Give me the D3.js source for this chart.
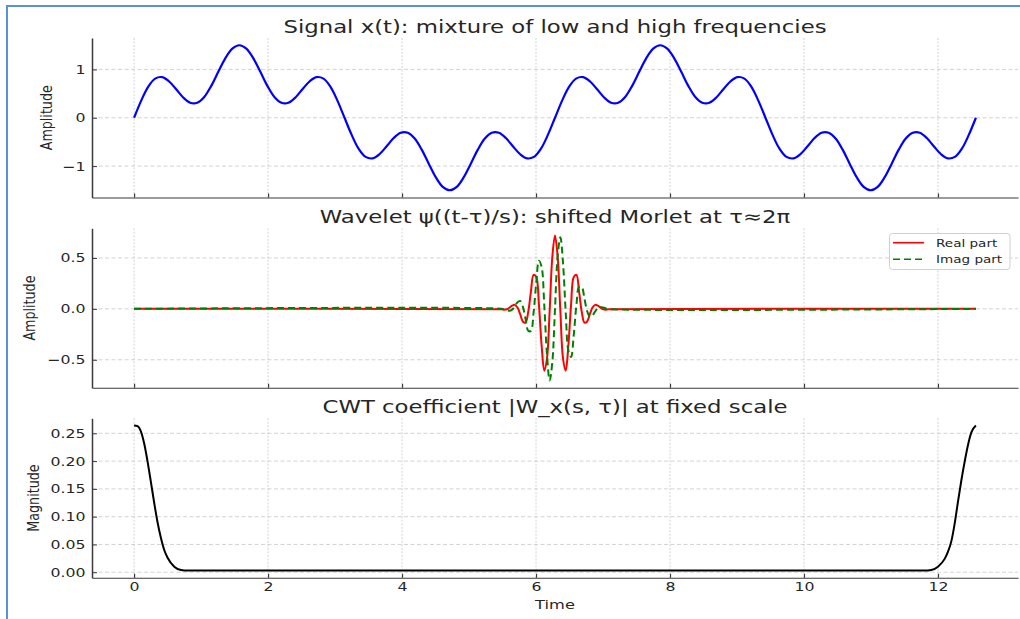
<!DOCTYPE html>
<html>
<head>
<meta charset="utf-8">
<title>Signal, Morlet wavelet and CWT coefficient</title>
<script src="https://d3js.org/d3.v7.min.js"></script>
<style>
  body { margin: 0; background: #fff; }
  svg text { font-family: "DejaVu Sans", sans-serif; fill: #262626; }
</style>
</head>
<body>
<div id="chart"></div>
<script>
// ---- data ----
const xTicks = [0, 2, 4, 6, 8, 10, 12];
const tEnd = 4 * Math.PI;

// x(t) sampled every pi/30 from 0 to 4*pi
const signalStep = Math.PI / 30;
const signalValues = [
  0, 0.35, 0.64, 0.81, 0.84, 0.75, 0.59, 0.42, 0.31, 0.31, 0.43, 0.66, 0.95, 1.23, 1.43, 1.5,
  1.43, 1.23, 0.95, 0.66, 0.43, 0.31, 0.31, 0.42, 0.59, 0.75, 0.84, 0.81, 0.64, 0.35, 0,
  -0.35, -0.64, -0.81, -0.84, -0.75, -0.59, -0.42, -0.31, -0.31, -0.43, -0.66, -0.95, -1.23, -1.43, -1.5,
  -1.43, -1.23, -0.95, -0.66, -0.43, -0.31, -0.31, -0.42, -0.59, -0.75, -0.84, -0.81, -0.64, -0.35, 0,
  0.35, 0.64, 0.81, 0.84, 0.75, 0.59, 0.42, 0.31, 0.31, 0.43, 0.66, 0.95, 1.23, 1.43, 1.5,
  1.43, 1.23, 0.95, 0.66, 0.43, 0.31, 0.31, 0.42, 0.59, 0.75, 0.84, 0.81, 0.64, 0.35, 0,
  -0.35, -0.64, -0.81, -0.84, -0.75, -0.59, -0.42, -0.31, -0.31, -0.43, -0.66, -0.95, -1.23, -1.43, -1.5,
  -1.43, -1.23, -0.95, -0.66, -0.43, -0.31, -0.31, -0.42, -0.59, -0.75, -0.84, -0.81, -0.64, -0.35, 0
];

// wavelet around tau = 2*pi, sampled every 0.04 (zero elsewhere)
const wavCenter = 2 * Math.PI;
const wavStep = 0.04;
const wavReal = [
  -0.005, -0.008, -0.004, 0.011, 0.031, 0.039, 0.013, -0.052, -0.124, -0.136, -0.031, 0.166, 0.334, 0.314,
  0.042, -0.356, -0.607, -0.488, -0.021, 0.509, 0.72, 0.509, -0.021, -0.488, -0.607, -0.356, 0.042,
  0.314, 0.334, 0.166, -0.031, -0.136, -0.124, -0.052, 0.013, 0.039, 0.031, 0.011, -0.004, -0.008, -0.005
];
const wavImag = [
  0.002, -0.004, -0.013, -0.018, -0.007, 0.025, 0.065, 0.077, 0.022, -0.098, -0.214, -0.217, -0.039, 0.256,
  0.473, 0.412, 0.035, -0.447, -0.704, -0.524, 0, 0.524, 0.704, 0.447, -0.035, -0.412, -0.473,
  -0.256, 0.039, 0.217, 0.214, 0.098, -0.022, -0.077, -0.065, -0.025, 0.007, 0.018, 0.013, 0.004, -0.002
];

// |W_x(s, tau)|
const cwtTimes = [0, 0.05, 0.1, 0.15, 0.2, 0.25, 0.3, 0.35, 0.4, 0.45, 0.5, 0.6, 0.7, 0.8,
  11.8, 11.9, 12.0, 12.1, 12.15, 12.2, 12.25, 12.3, 12.35, 12.4, 12.45, 12.5, tEnd];
const cwtMag = [0.264, 0.263, 0.254, 0.232, 0.2, 0.163, 0.125, 0.09, 0.062, 0.04, 0.026, 0.01, 0.004, 0.003,
  0.003, 0.004, 0.01, 0.024, 0.037, 0.056, 0.088, 0.128, 0.166, 0.2, 0.23, 0.252, 0.264];

const titles = [
  "Signal x(t): mixture of low and high frequencies",
  "Wavelet \u03c8((t-\u03c4)/s): shifted Morlet at \u03c4\u22482\u03c0",
  "CWT coefficient |W_x(s, \u03c4)| at fixed scale"
];
const yLabels = ["Amplitude", "Amplitude", "Magnitude"];
const yTickSets = [[-1, 0, 1], [-0.5, 0, 0.5], [0, 0.05, 0.1, 0.15, 0.2, 0.25]];
const yFormats = ["d", ".1f", ".2f"];
const legendNames = ["Real part", "Imag part"];

// ---- layout ----
const SX = 1.28;            // the figure is stretched horizontally
const left = 92, right = 1018;
const panelTop = [38, 228.3, 418.3];
const panelH = 159.5;
const yLabelX = [52, 35, 38.5];

const svg = d3.select("#chart").append("svg")
  .attr("width", 1020).attr("height", 619);

// blue frame
svg.append("path")
  .attr("d", "M7,619 L7,6 L1020,6")
  .attr("fill", "none").attr("stroke", "#5b8fd6").attr("stroke-width", 2);

function padded(ext) {
  const p = (ext[1] - ext[0]) * 0.05;
  return [ext[0] - p, ext[1] + p];
}

const x = d3.scaleLinear().domain(padded([0, tEnd])).range([left, right]);

const signalPts = signalValues.map((v, i) => [i * signalStep, v]);
const half = (wavReal.length - 1) / 2;
const realPts = [[0, 0], ...wavReal.map((v, i) => [wavCenter + (i - half) * wavStep, v]), [tEnd, 0]];
const imagPts = [[0, 0], ...wavImag.map((v, i) => [wavCenter + (i - half) * wavStep, v]), [tEnd, 0]];
const cwtPts = cwtTimes.map((t, i) => [t, cwtMag[i]]);

const panelSeries = [
  [{ pts: signalPts, color: "#0000ff", width: 2.2, dash: null, curve: d3.curveCatmullRom }],
  [{ pts: realPts, color: "#ff0000", width: 2, dash: null, curve: d3.curveCatmullRom },
   { pts: imagPts, color: "#008000", width: 2, dash: "7,4", curve: d3.curveCatmullRom }],
  [{ pts: cwtPts, color: "#000000", width: 2, dash: null, curve: d3.curveMonotoneX }]
];

panelSeries.forEach((series, p) => {
  const top = panelTop[p], bottom = top + panelH;
  const allV = series.flatMap(s => s.pts.map(d => d[1]));
  const y = d3.scaleLinear().domain(padded(d3.extent(allV))).range([bottom, top]);
  const g = svg.append("g");

  // grid
  g.selectAll(".vgrid").data(xTicks).enter().append("line")
    .attr("x1", d => x(d)).attr("x2", d => x(d))
    .attr("y1", top).attr("y2", bottom)
    .attr("stroke", "#c8c8c8").attr("stroke-width", 0.8).attr("stroke-dasharray", "2,1.5");
  g.selectAll(".hgrid").data(yTickSets[p]).enter().append("line")
    .attr("x1", left).attr("x2", right)
    .attr("y1", d => y(d)).attr("y2", d => y(d))
    .attr("stroke", "#c8c8c8").attr("stroke-width", 0.8).attr("stroke-dasharray", "4,2.5");

  // lines
  series.forEach(s => {
    const line = d3.line().x(d => x(d[0])).y(d => y(d[1])).curve(s.curve);
    g.append("path").attr("d", line(s.pts))
      .attr("fill", "none").attr("stroke", s.color)
      .attr("stroke-width", s.width)
      .attr("stroke-dasharray", s.dash)
      .attr("stroke-linejoin", "round");
  });

  // y axis
  const ya = g.append("g").attr("transform", `translate(${left},0)`)
    .call(d3.axisLeft(y).tickValues(yTickSets[p]).tickFormat(d3.format(yFormats[p]))
      .tickSizeInner(-5).tickSizeOuter(0).tickPadding(6));
  ya.attr("font-family", null).attr("font-size", 12.3);
  ya.select(".domain").attr("stroke", "#3a3a3a").attr("stroke-width", 1.5);
  ya.selectAll(".tick line").attr("stroke", "#3a3a3a").attr("stroke-width", 1);
  ya.selectAll(".tick text").attr("x", -6.5 / SX).attr("transform", `scale(${SX},1)`).attr("fill", "#262626");

  // x axis
  const xa = g.append("g").attr("transform", `translate(0,${bottom})`)
    .call(d3.axisBottom(x).tickValues(xTicks).tickSizeInner(-4).tickSizeOuter(0).tickPadding(4)
      .tickFormat(p === 2 ? d3.format("d") : ""));
  xa.attr("font-family", null).attr("font-size", 12.3);
  xa.select(".domain").attr("stroke", "#3a3a3a").attr("stroke-width", 1.1);
  xa.selectAll(".tick line").attr("stroke", "#3a3a3a").attr("stroke-width", 1.2);
  xa.selectAll(".tick text").attr("transform", `scale(${SX},1)`).attr("fill", "#262626");

  // title
  svg.append("text")
    .attr("transform", `translate(${(left + right) / 2},${top - 5.5}) scale(${SX},1)`)
    .attr("text-anchor", "middle").attr("font-size", 17.8)
    .text(titles[p]);

  // y label
  svg.append("text")
    .attr("transform", `translate(${yLabelX[p]},${(top + bottom) / 2}) scale(${SX},1) rotate(-90)`)
    .attr("text-anchor", "middle").attr("font-size", 12.7)
    .text(yLabels[p]);

  // legend for the wavelet panel
  if (p === 1) {
    const lg = svg.append("g");
    lg.append("rect")
      .attr("x", 889.5).attr("y", 233.5).attr("width", 120.5).attr("height", 36)
      .attr("rx", 3).attr("fill", "#fff").attr("fill-opacity", 0.8)
      .attr("stroke", "#d0d0d0").attr("stroke-width", 1);
    series.forEach((s, i) => {
      const ly = 242.7 + i * 16.6;
      lg.append("line")
        .attr("x1", 893).attr("x2", 924).attr("y1", ly).attr("y2", ly)
        .attr("stroke", s.color).attr("stroke-width", 1.6)
        .attr("stroke-dasharray", s.dash);
      lg.append("text")
        .attr("transform", `translate(936,${ly + 3.9}) scale(${SX},1)`)
        .attr("font-size", 10.6)
        .text(legendNames[i]);
    });
  }
});

// x label
svg.append("text")
  .attr("transform", `translate(${(left + right) / 2},609) scale(${SX},1)`)
  .attr("text-anchor", "middle").attr("font-size", 12.7)
  .text("Time");
</script>
</body>
</html>
